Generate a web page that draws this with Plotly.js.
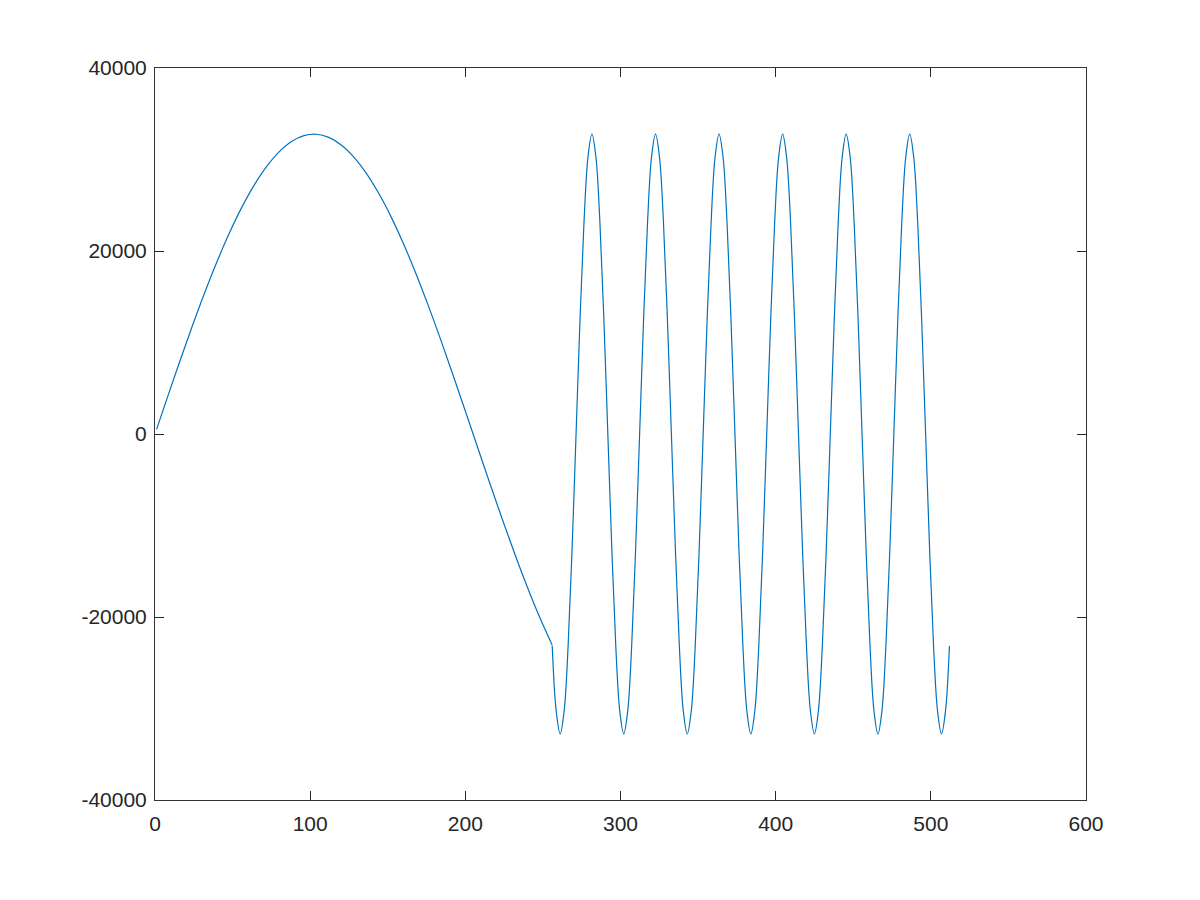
<!DOCTYPE html>
<html>
<head>
<meta charset="utf-8">
<script src="https://cdn.plot.ly/plotly-3.0.1.min.js"></script>
<style>html,body{margin:0;padding:0;background:#fff;}#chart{width:1200px;height:900px;}</style>
</head>
<body>
<div id="chart"></div>
<script>
// Segment 1: slow wave, samples 1..256
const seg1X = [1, 8, 16, 24, 32, 40, 48, 56, 64, 72, 80, 88, 96, 104, 112, 120, 128, 136, 144, 152, 160, 168, 176, 184, 192, 200, 208, 216, 224, 232, 240, 248, 256];
const seg1Y = [502, 4007, 7954, 11780, 15433, 18851, 21987, 24792, 27229, 29254, 30837, 31961, 32604, 32758, 32420, 31594, 30297, 28544, 26358, 23786, 20843, 17603, 14087, 10364, 6481, 2507, -1504, -5498, -9404, -13176, -16747, -20067, -23078];

// Segment 2: fast wave, samples 256..512, read every 2.56 samples
const seg2Start = 256;
const seg2Step = 2.56;
const seg2Y = [
  -23170, -30274, -32767, -30274, -23170, -12540,
  0, 12540, 23170, 30274, 32767, 30274, 23170, 12540, 0, -12540, -23170, -30274, -32767, -30274, -23170, -12540,
  0, 12540, 23170, 30274, 32767, 30274, 23170, 12540, 0, -12540, -23170, -30274, -32767, -30274, -23170, -12540,
  0, 12540, 23170, 30274, 32767, 30274, 23170, 12540, 0, -12540, -23170, -30274, -32767, -30274, -23170, -12540,
  0, 12540, 23170, 30274, 32767, 30274, 23170, 12540, 0, -12540, -23170, -30274, -32767, -30274, -23170, -12540,
  0, 12540, 23170, 30274, 32767, 30274, 23170, 12540, 0, -12540, -23170, -30274, -32767, -30274, -23170, -12540,
  0, 12540, 23170, 30274, 32767, 30274, 23170, 12540, 0, -12540, -23170, -30274, -32767, -30274, -23170
];

// Tick labels
const xTickVals = [0, 100, 200, 300, 400, 500, 600];
const xTickText = ["0", "100", "200", "300", "400", "500", "600"];
const yTickVals = [-40000, -20000, 0, 20000, 40000];
const yTickText = ["-40000", "-20000", "0", "20000", "40000"];

const lineStyle = {color: '#0072BD', width: 1.2, shape: 'spline', smoothing: 1};

const traces = [
  {type: 'scatter', mode: 'lines', x: seg1X, y: seg1Y, line: lineStyle, hoverinfo: 'skip'},
  {type: 'scatter', mode: 'lines', x0: seg2Start, dx: seg2Step, y: seg2Y, line: lineStyle, hoverinfo: 'skip'}
];

const axisCommon = {
  showgrid: false,
  zeroline: false,
  showline: true,
  mirror: 'ticks',
  linecolor: '#333333',
  linewidth: 1,
  ticks: 'inside',
  ticklen: 9,
  tickwidth: 1,
  tickcolor: '#262626',
  tickfont: {family: 'Liberation Sans, Arial, sans-serif', size: 21, color: '#262626'},
  tickmode: 'array'
};

const layout = {
  width: 1200,
  height: 900,
  margin: {l: 155, r: 114, t: 68, b: 100, pad: 0},
  paper_bgcolor: '#ffffff',
  plot_bgcolor: '#ffffff',
  showlegend: false,
  xaxis: Object.assign({}, axisCommon, {range: [0, 600], tickvals: xTickVals, ticktext: xTickText, ticklabelstandoff: 5}),
  yaxis: Object.assign({}, axisCommon, {range: [-40000, 40000], tickvals: yTickVals, ticktext: yTickText, ticklabelstandoff: 3})
};

Plotly.newPlot('chart', traces, layout, {staticPlot: true, displayModeBar: false});
</script>
</body>
</html>
